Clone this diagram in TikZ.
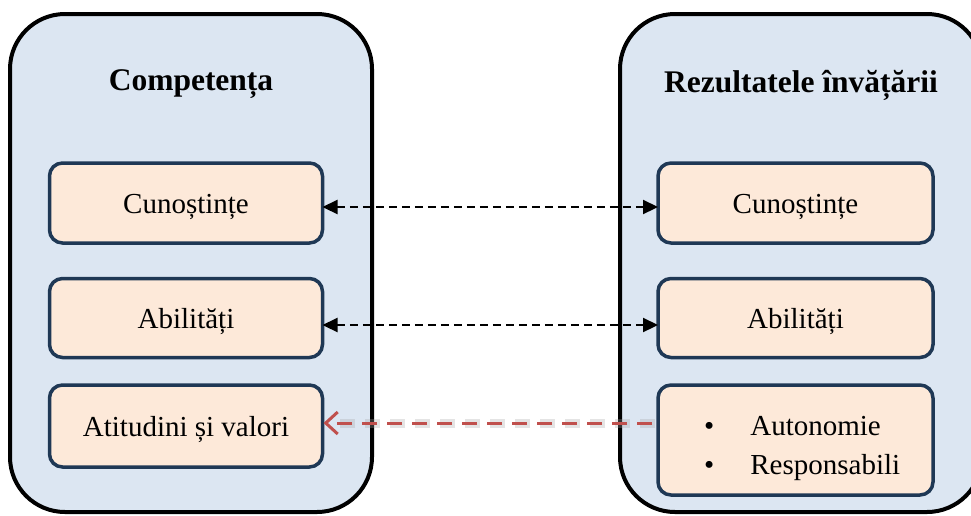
\documentclass[tikz,border=0pt]{standalone}
\usepackage{fontspec}
\setmainfont{Liberation Serif}
\usetikzlibrary{arrows.meta}
\definecolor{outerfill}{HTML}{DCE6F2}
\definecolor{innerfill}{HTML}{FDE9D9}
\definecolor{innerdraw}{HTML}{1F3855}
\definecolor{redline}{HTML}{C0504D}
\begin{document}
\begin{tikzpicture}[x=1pt,y=-1pt,
  outerbox/.style={draw=black,line width=4pt,fill=outerfill,rounded corners=55pt,
    minimum width=362pt,minimum height=498pt,inner sep=0pt,outer sep=0pt},
  innerbox/.style={draw=innerdraw,line width=3.5pt,fill=innerfill,rounded corners=13pt,
    minimum width=273pt,inner sep=0pt,outer sep=0pt,text height=24pt,text depth=3pt,
    font=\fontsize{29}{34}\selectfont},
  titletext/.style={font=\fontsize{31.5}{36}\selectfont\bfseries,inner sep=0pt},
  blackarrow/.style={dash pattern=on 8pt off 5pt,line width=2.2pt,
    {Triangle[length=15pt,width=14pt]}-{Triangle[length=15pt,width=14pt]}},
  redarrow/.style={redline,line width=3pt,dash pattern=on 15pt off 10pt,
    -{Straight Barb[length=12pt,width=22pt,line width=3pt]}},
  redshadow/.style={black!35,opacity=0.3,line width=9pt,dash pattern=on 15pt off 10pt}
]
\useasboundingbox (0,0) rectangle (971,515);
\fill[white] (0,0) rectangle (971,515);
% outer boxes
\node[outerbox] (L) at (191,263) {};
\node[outerbox] (R) at (801,263) {};
% titles
\node[titletext] (Lt) at (191,84) {Competența};
\node[titletext] (Rt) at (801,85) {Rezultatele învățării};
% inner left
\node[innerbox,minimum height=80pt] (L1) at (186,203) {Cunoștințe};
\node[innerbox,minimum height=79pt] (L2) at (186,318) {Abilități};
\node[innerbox,minimum height=82pt] (L3) at (186,426) {Atitudini și valori};
% inner right
\node[innerbox,minimum width=275pt,minimum height=80pt] (R1) at (795.5,203) {Cunoștințe};
\node[innerbox,minimum width=275pt,minimum height=79pt] (R2) at (795.5,318) {Abilități};
\node[innerbox,minimum width=275pt,minimum height=110pt] (R3) at (795.5,440) {};
\node[anchor=west,inner sep=0pt,font=\fontsize{29}{39}\selectfont] (R3t) at (704,447)
  {\begin{tabular}{@{}l@{\hspace{36pt}}l@{}}\textbullet & Autonomie\\ \textbullet & Responsabili\end{tabular}};
% connectors
\draw[blackarrow] ([yshift=-4pt]L1.east) -- ([yshift=-4pt]R1.west);
\draw[blackarrow] ([yshift=-7pt]L2.east) -- ([yshift=-7pt]R2.west);
\draw[redshadow] ([xshift=-3pt,yshift=3pt]R3.west |- L3.east) -- ([xshift=14pt,yshift=3pt]L3.east);
\draw[redarrow] ([xshift=-6pt,yshift=3pt]R3.west |- L3.east) -- ([xshift=1pt,yshift=3pt]L3.east);
\end{tikzpicture}
\end{document}
